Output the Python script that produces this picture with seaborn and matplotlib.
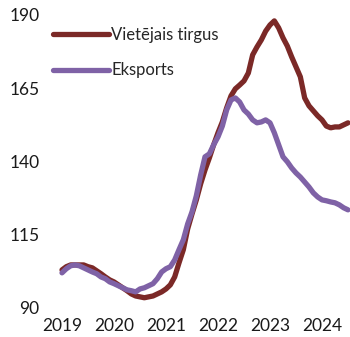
import numpy as np
import pandas as pd
import matplotlib
matplotlib.use("Agg")
import matplotlib.pyplot as plt
import seaborn as sns

# Monthly index, January 2019 = 0
months = list(range(67))
start_year = 2019

domestic = [
    103.0, 104.1, 104.7, 104.7, 104.7, 104.7, 104.1, 103.7, 102.7, 101.7,
    100.6, 99.6, 98.9, 97.9, 96.9, 95.9, 94.8, 94.1, 93.8, 93.5,
    93.8, 94.1, 94.8, 95.5, 96.5, 97.9, 100.6, 105.4, 109.9, 117.0,
    122.1, 126.9, 132.4, 137.1, 141.2, 145.7, 149.8, 153.5, 158.3, 162.4,
    164.8, 166.1, 167.5, 170.2, 176.4, 179.1, 181.5, 184.5, 186.6, 188.0,
    185.6, 182.2, 179.4, 175.7, 172.3, 168.9, 161.7, 159.0, 157.3, 155.6,
    154.2, 152.1, 151.5, 151.8, 151.8, 152.5, 153.2,
]

export = [
    102.0, 103.4, 104.4, 104.7, 104.4, 103.7, 103.0, 102.3, 101.7, 100.6,
    100.0, 98.9, 98.3, 97.6, 96.9, 96.2, 95.9, 95.5, 96.5, 96.9,
    97.6, 98.3, 100.0, 102.3, 103.4, 104.1, 106.4, 109.9, 113.3, 118.7,
    122.8, 128.3, 135.4, 141.6, 142.6, 145.7, 148.4, 152.1, 157.6, 161.0,
    161.7, 160.3, 157.6, 156.2, 154.2, 153.2, 153.5, 154.2, 153.2, 149.8,
    145.7, 141.6, 139.9, 137.8, 136.1, 134.7, 133.0, 131.3, 129.3, 127.9,
    126.9, 126.6, 126.2, 125.9, 125.2, 124.2, 123.5,
]

series_names = ["Vietējais tirgus", "Eksports"]
colors = ["#7B2927", "#7F62A6"]
year_ticks = [2019, 2020, 2021, 2022, 2023, 2024]
y_ticks = [90, 115, 140, 165, 190]

x = [start_year + m / 12 for m in months]
df = pd.DataFrame({
    "x": x * 2,
    "value": domestic + export,
    "series": [series_names[0]] * len(x) + [series_names[1]] * len(x),
})

sns.set_style("white")
plt.rcParams["font.family"] = ["Lato", "DejaVu Sans"]

fig = plt.figure(figsize=(3.5, 3.37), dpi=100)
ax = fig.add_axes([48 / 350, 1 - 308 / 337, 302 / 350, (308 - 15) / 337])

sns.lineplot(data=df, x="x", y="value", hue="series", hue_order=series_names,
             palette=colors, linewidth=3.8, ax=ax, legend=True)

for line in ax.get_lines():
    line.set_solid_capstyle("round")
    line.set_solid_joinstyle("round")

ax.set_xlim(2019 - 14 / 52, 2019 + 288 / 52)
ax.set_ylim(90, 190)
ax.set_xticks(year_ticks)
ax.set_xticklabels([str(y) for y in year_ticks])
ax.set_yticks(y_ticks)
ax.set_xlabel("")
ax.set_ylabel("")
ax.tick_params(axis="both", length=0, labelsize=12.5, colors="#1a1a1a")
ax.tick_params(axis="x", pad=7)
ax.tick_params(axis="y", pad=6)
for s in ax.spines.values():
    s.set_visible(False)

leg = ax.legend(loc="upper left", bbox_to_anchor=(53 / 350, 1 - 27 / 337),
                bbox_transform=fig.transFigure, frameon=False, fontsize=12,
                handlelength=3.35, handletextpad=0.15, labelspacing=1.17,
                borderpad=0, borderaxespad=0)
for h in leg.get_lines():
    h.set_linewidth(3.8)
    h.set_solid_capstyle("round")

fig.savefig("out.png", dpi=100)
